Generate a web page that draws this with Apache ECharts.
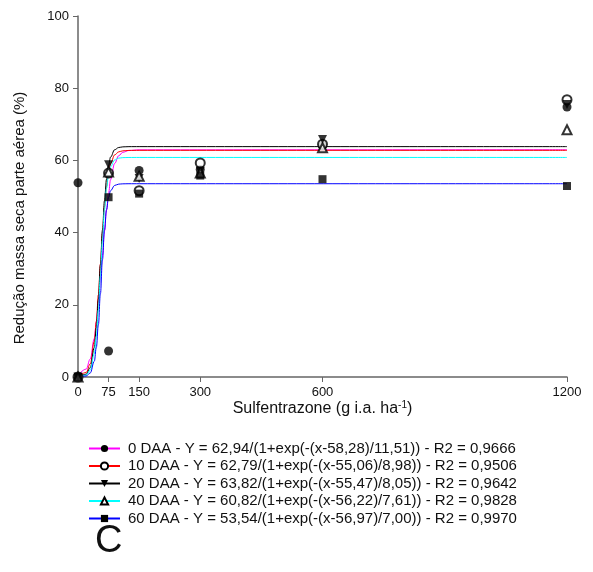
<!DOCTYPE html>
<html>
<head>
<meta charset="utf-8">
<script src="https://cdn.jsdelivr.net/npm/echarts@6/dist/echarts.min.js"></script>
<style>
html,body{margin:0;padding:0;background:#fff;}
#chart{width:593px;height:572px;}
</style>
</head>
<body>
<div id="chart"></div>
<script>
// ---- Data ----
const seriesNames = [
  '0 DAA - Y = 62,94/(1+exp(-(x-58,28)/11,51)) - R2 = 0,9666',
  '10 DAA - Y = 62,79/(1+exp(-(x-55,06)/8,98)) - R2 = 0,9506',
  '20 DAA - Y = 63,82/(1+exp(-(x-55,47)/8,05)) - R2 = 0,9642',
  '40 DAA - Y = 60,82/(1+exp(-(x-56,22)/7,61)) - R2 = 0,9828',
  '60 DAA - Y = 53,54/(1+exp(-(x-56,97)/7,00)) - R2 = 0,9970'
];
const doses = [0, 75, 150, 300, 600, 1200];
const obs0  = [53.8, 7.2, 57.2, 57.5, 64.0, 74.8];
const obs10 = [0, 56.5, 51.6, 59.3, 64.5, 76.8];
const obs20 = [0, 58.8, 55.0, 57.0, 65.8, 75.5];
const obs40 = [0, 56.8, 55.6, 56.5, 63.5, 68.5];
const obs60 = [0, 49.8, 50.8, 55.8, 54.8, 52.9];

const curveX   = [0, 20, 30, 40, 45, 50, 55, 60, 65, 70, 75, 80, 90, 100, 110, 125, 150, 1200];
const fit0  = [0.40, 2.19, 4.97, 10.68, 15.09, 20.62, 27.01, 33.81, 40.41, 46.24, 51.01, 54.66, 59.18, 61.31, 62.24, 62.75, 62.92, 62.94];
const fit10 = [0.14, 1.24, 3.63, 9.89, 15.45, 22.78, 31.29, 39.82, 47.19, 52.79, 56.64, 59.11, 61.53, 62.37, 62.65, 62.76, 62.79, 62.79];
const fit20 = [0.06, 0.77, 2.59, 8.15, 13.66, 21.47, 30.98, 40.66, 48.86, 54.80, 58.64, 60.93, 62.96, 63.57, 63.75, 63.81, 63.82, 63.82];
const fit40 = [0.04, 0.52, 1.88, 6.46, 11.33, 18.63, 27.98, 37.81, 46.24, 52.27, 56.07, 58.26, 60.11, 60.63, 60.77, 60.81, 60.82, 60.82];
const fit60 = [0.02, 0.27, 1.11, 4.36, 8.20, 14.44, 23.03, 32.47, 40.64, 46.34, 49.75, 51.62, 53.07, 53.43, 53.51, 53.54, 53.54, 53.54];

const xTicks = [0, 75, 150, 300, 600, 1200];
const yTicks = [0, 20, 40, 60, 80, 100];

const lineColors = ['#ff00ff', '#ff0000', '#000000', '#00ffff', '#0000ff'];
const symbols = ['circle', 'emptyCircle', 'triangle', 'emptyTriangle', 'rect'];
const rotations = [0, 0, 180, 0, 0];
const obsAll = [obs0, obs10, obs20, obs40, obs60];
const fitAll = [fit0, fit10, fit20, fit40, fit60];

const zip = (xs, ys) => xs.map((x, i) => [x, ys[i]]);
const FONT = 'Liberation Sans, Arial, sans-serif';

const series = [];
for (let i = 0; i < 5; i++) {
  series.push({
    name: seriesNames[i],
    type: 'line',
    data: zip(curveX, fitAll[i]),
    smooth: 0.4,
    smoothMonotone: 'x',
    showSymbol: false,
    symbol: symbols[i],
    symbolRotate: rotations[i],
    lineStyle: { color: lineColors[i], width: 1 },
    itemStyle: { color: '#000' },
    z: 2,
    silent: true,
    animation: false
  });
}
for (let i = 0; i < 5; i++) {
  series.push({
    name: seriesNames[i],
    type: 'scatter',
    data: zip(doses, obsAll[i]),
    symbol: symbols[i],
    symbolRotate: rotations[i],
    symbolSize: symbols[i] === 'rect' ? 8 : 9,
    itemStyle: { color: '#000', borderColor: '#000', borderWidth: symbols[i].indexOf('empty') === 0 ? 1 : 0 },
    z: 3,
    animation: false
  });
}

const chart = echarts.init(document.getElementById('chart'), null, { renderer: 'canvas' });
chart.setOption({
  backgroundColor: '#fff',
  animation: false,
  textStyle: { fontFamily: FONT },
  grid: { left: 78, right: 26, top: 16, bottom: 195, containLabel: false },
  xAxis: {
    type: 'value', min: 0, max: 1200,
    name: 'Sulfentrazone (g i.a. ha{sup|-1})',
    nameLocation: 'middle', nameGap: 23, nameMoveOverlap: false,
    nameTextStyle: {
      fontSize: 16, color: '#111', fontFamily: FONT,
      rich: { sup: { fontSize: 10, verticalAlign: 'top', padding: [0, 0, 8, 0], color: '#111', fontFamily: FONT } }
    },
    axisLine: { show: true, lineStyle: { color: '#666', width: 1.5 } },
    axisTick: { show: true, customValues: xTicks, length: 5, lineStyle: { color: '#666' } },
    axisLabel: { customValues: xTicks, fontSize: 13, color: '#111', margin: 9, formatter: v => String(v) },
    splitLine: { show: false }
  },
  yAxis: {
    type: 'value', min: 0, max: 100, interval: 20,
    axisLine: { show: true, lineStyle: { color: '#666', width: 1.5 } },
    axisTick: { show: true, length: 5, lineStyle: { color: '#666' } },
    axisLabel: { fontSize: 13, color: '#111', margin: 9 },
    splitLine: { show: false }
  },
  legend: {
    orient: 'vertical', left: 83, top: 436,
    itemWidth: 31, itemHeight: 9, itemGap: 2.5,
    textStyle: { fontSize: 15, color: '#111', fontFamily: FONT, padding: [0, 0, 0, 3] },
    data: seriesNames,
    selectedMode: false
  },
  graphic: [
    {
      type: 'text', x: 20, y: 218, rotation: Math.PI / 2,
      style: { text: 'Redução massa seca parte aérea (%)', fontSize: 15, fill: '#111',
               fontFamily: FONT, align: 'center', verticalAlign: 'middle' }
    },
    {
      type: 'text', left: 95, top: 523,
      style: { text: 'C', fontSize: 38, fill: '#111', fontFamily: FONT }
    }
  ],
  series: series
});
</script>
</body>
</html>
